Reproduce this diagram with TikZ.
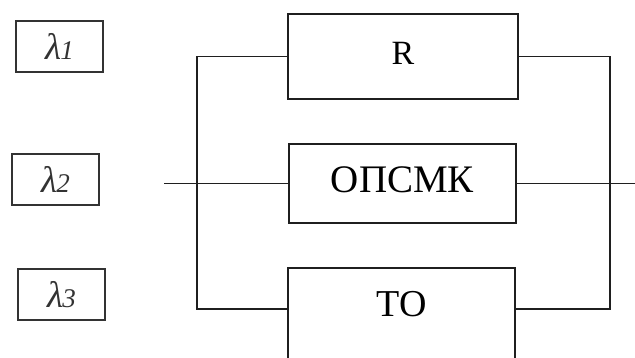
\documentclass[tikz,border=0pt]{standalone}
\usepackage{fontspec}
\setmainfont{Liberation Serif}
\begin{document}
\begin{tikzpicture}[x=1pt,y=-1pt,
  block/.style={draw=black!88, line width=2.2pt, inner sep=0pt},
  lambdabox/.style={draw=black!80, line width=1.8pt, inner sep=0pt,
    minimum width=87pt, minimum height=51pt},
  wire/.style={draw=black!88, line width=1.6pt},
  lam/.style={font=\fontsize{37}{37}\selectfont\itshape, text=black!80, inner sep=0pt}]
  \useasboundingbox (0,0) rectangle (635,358);
  \clip (0,0) rectangle (635,358);

  % rate labels
  \node[lambdabox] (l1) at (59.5,46.5) {};
  \node[lam] at (l1.center) {λ\kern-1pt\fontsize{27}{27}\selectfont 1};
  \node[lambdabox] (l2) at (55.5,179.5) {};
  \node[lam] at (l2.center) {λ\kern-1pt\fontsize{27}{27}\selectfont 2};
  \node[lambdabox] (l3) at (61.5,294.5) {};
  \node[lam] at (l3.center) {λ\kern-1pt\fontsize{27}{27}\selectfont 3};

  % parallel blocks
  \node[block, minimum width=230pt, minimum height=85pt] (R) at (403,56.5) {};
  \node[font=\fontsize{34}{34}\selectfont] at (403,53) {R};
  \node[block, minimum width=227pt, minimum height=79pt] (O) at (402.5,183.5) {};
  \node[font=\fontsize{39}{39}\selectfont] at (402.5,180) {ОПСМК};
  \node[block, minimum width=227pt, minimum height=100pt] (T) at (401.5,318) {};
  \node[font=\fontsize{38}{38}\selectfont] at (401.5,304) {ТО};

  % bus points
  \coordinate (in) at (164,183.5);
  \coordinate (out) at (640,183.5);
  \coordinate (lb) at (197,183.5);
  \coordinate (rb) at (610,183.5);

  % wiring
  \draw[wire] (in) -- (O.west);
  \draw[wire] (O.east) -- (out);
  \draw[wire] (R.west) -| (lb) |- ([yshift=-42pt]T.north west);
  \draw[wire] (R.east) -| (rb) |- ([yshift=-42pt]T.north east);
\end{tikzpicture}
\end{document}
